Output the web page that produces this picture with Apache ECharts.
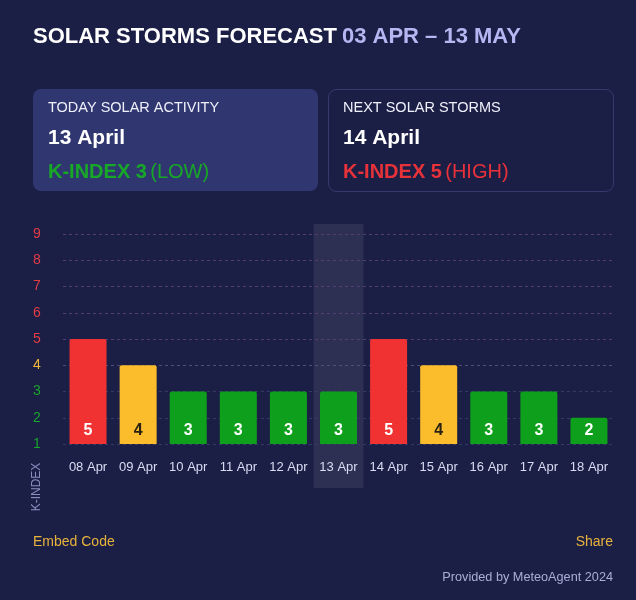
<!DOCTYPE html>
<html>
<head>
<meta charset="utf-8">
<script src="https://cdn.jsdelivr.net/npm/echarts@6/dist/echarts.min.js"></script>
<style>
html,body{margin:0;padding:0;background:#1c1f45;}
#c{width:636px;height:600px;}
</style>
</head>
<body>
<div id="c"></div>
<script>
const categories = ['08 Apr','09 Apr','10 Apr','11 Apr','12 Apr','13 Apr','14 Apr','15 Apr','16 Apr','17 Apr','18 Apr'];
const kIndex = [5,4,3,3,3,3,5,4,3,3,2];
const yTicks = [1,2,3,4,5,6,7,8,9];
const todayCategory = '13 Apr';

const FONT = '"Liberation Sans", Arial, Helvetica, sans-serif';
function levelColor(v){ return v >= 5 ? '#f03232' : (v === 4 ? '#fbbd2c' : '#0ea01c'); }
function tickColor(v){ return v >= 5 ? '#e23c44' : (v === 4 ? '#f2b83a' : '#17a52a'); }

const chart = echarts.init(document.getElementById('c'), null, {renderer:'canvas'});

const option = {
  backgroundColor: '#1c1f45',
  animation: false,
  title: {
    left: 33, top: 26, padding: 0,
    text: '{a|SOLAR STORMS FORECAST} {b|03 APR – 13 MAY}',
    textStyle: {
      rich: {
        a: {fontFamily: FONT, fontWeight: 'bold', fontSize: 22, color: '#ffffff'},
        b: {fontFamily: FONT, fontWeight: 'bold', fontSize: 22, color: '#b6b6f2'}
      }
    }
  },
  grid: {left: 63, right: 22, top: 234, bottom: 156, containLabel: false},
  xAxis: {
    type: 'category',
    data: categories,
    axisLine: {show: false},
    axisTick: {show: false},
    axisLabel: {color: '#d8dcf2', fontFamily: FONT, fontSize: 13, margin: 17}
  },
  yAxis: {
    type: 'value',
    min: 1, max: 9, interval: 1,
    axisLine: {show: false},
    axisTick: {show: false},
    axisLabel: {
      align: 'center', margin: 26, fontFamily: FONT, fontSize: 14,
      formatter: v => '{v' + v + '|' + v + '}',
      rich: Object.fromEntries(yTicks.map(v => ['v' + v, {color: tickColor(v), fontFamily: FONT, fontSize: 14}]))
    },
    splitLine: {
      lineStyle: {
        type: [3, 3],
        width: 1,
        color: yTicks.map(v => v >= 5 ? '#553c72' : (v === 4 ? '#4c5078' : '#333a66'))
      }
    }
  },
  series: [{
    type: 'bar',
    barWidth: 37,
    data: kIndex.map(v => ({
      value: v,
      itemStyle: {color: levelColor(v), borderRadius: [2,2,0,0]},
      label: {color: v === 4 ? '#2a2210' : '#ffffff'}
    })),
    label: {
      show: true, position: 'insideBottom', distance: 5,
      fontFamily: FONT, fontWeight: 'bold', fontSize: 16
    },
    z: 3
  }],
  graphic: [
    // cards
    {type: 'rect', left: 33, top: 89, shape: {width: 285, height: 102, r: 8},
     style: {fill: '#30366f'}, z: 1},
    {type: 'rect', left: 328, top: 89, shape: {width: 285, height: 102, r: 8},
     style: {fill: '#1c1f45', stroke: '#363b6e', lineWidth: 1}, z: 1},
    {type: 'text', left: 48, top: 100, style: {text: 'TODAY SOLAR ACTIVITY', fill: '#eef0fa', font: '14.5px ' + FONT}, z: 2},
    {type: 'text', left: 48, top: 128, style: {text: '13 April', fill: '#ffffff', font: 'bold 21px ' + FONT}, z: 2},
    {type: 'text', left: 48, top: 162, style: {
      text: '{a|K-INDEX 3} {b|(LOW)}', fill: '#18a828',
      rich: {a: {font: 'bold 20px ' + FONT, fill: '#18a828'}, b: {font: '20px ' + FONT, fill: '#18a828'}}
    }, z: 2},
    {type: 'text', left: 343, top: 100, style: {text: 'NEXT SOLAR STORMS', fill: '#eef0fa', font: '14.5px ' + FONT}, z: 2},
    {type: 'text', left: 343, top: 128, style: {text: '14 April', fill: '#ffffff', font: 'bold 21px ' + FONT}, z: 2},
    {type: 'text', left: 343, top: 162, style: {
      text: '{a|K-INDEX 5} {b|(HIGH)}', fill: '#e8323a',
      rich: {a: {font: 'bold 20px ' + FONT, fill: '#e8323a'}, b: {font: '20px ' + FONT, fill: '#e8323a'}}
    }, z: 2},
    // axis name
    {type: 'text', x: 37, y: 487, rotation: Math.PI / 2,
     style: {text: 'K-INDEX', fill: '#8a8fc0', font: '12px ' + FONT, align: 'center', verticalAlign: 'middle'}, z: 2},
    // footer
    {type: 'text', left: 33, top: 535, style: {text: 'Embed Code', fill: '#e8b33c', font: '14px ' + FONT}, z: 2},
    {type: 'text', right: 23, top: 535, style: {text: 'Share', fill: '#e8b33c', font: '14px ' + FONT}, z: 2},
    {type: 'text', right: 23, top: 571, style: {text: 'Provided by MeteoAgent 2024', fill: '#a9aed8', font: '12.7px ' + FONT}, z: 2}
  ]
};
chart.setOption(option);

// highlight band for today's category, positioned via the axis scale
const cx = chart.convertToPixel({xAxisIndex: 0}, todayCategory);
const bandW = chart.getModel().getComponent('xAxis', 0).axis.getBandWidth();
const topY = chart.convertToPixel({yAxisIndex: 0}, 9) - 10;
const botY = chart.convertToPixel({yAxisIndex: 0}, 1) + 44;
option.graphic.push({
  type: 'rect', id: 'band', x: cx - bandW / 2, y: topY,
  shape: {width: bandW, height: botY - topY},
  style: {fill: 'rgba(255,255,255,0.08)'}, z: 0, silent: true
});
chart.setOption({graphic: option.graphic});
</script>
</body>
</html>
